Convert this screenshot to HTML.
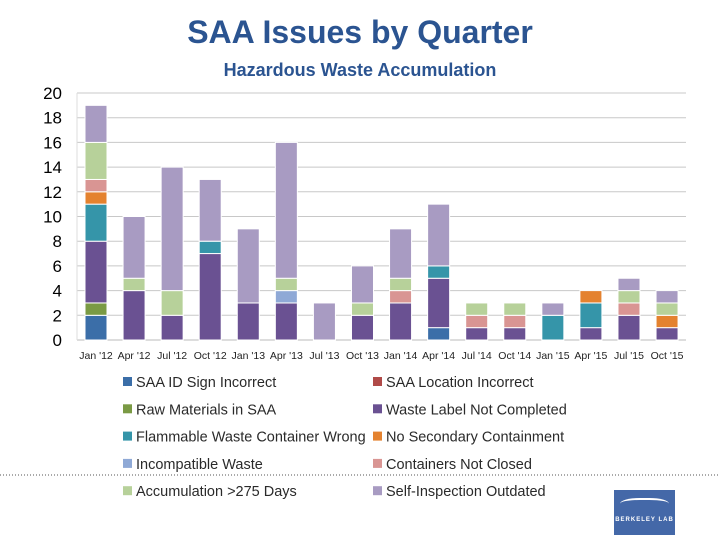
<!DOCTYPE html>
<html><head><meta charset="utf-8"><style>
body{margin:0;width:720px;height:540px;background:#fff;overflow:hidden;font-family:"Liberation Sans",sans-serif;position:relative}
</style></head><body>
<div style="position:absolute;left:0;width:720px;top:14px;text-align:center;font-size:32px;font-weight:bold;color:#2b5491">SAA Issues by Quarter</div>
<div style="position:absolute;left:0;width:720px;top:60px;text-align:center;font-size:18px;font-weight:bold;color:#2b5491">Hazardous Waste Accumulation</div>
<svg id="chart" width="720" height="540" style="position:absolute;left:0;top:0"></svg>
<script>
const categories=["Jan '12","Apr '12","Jul '12","Oct '12","Jan '13","Apr '13","Jul '13","Oct '13","Jan '14","Apr '14","Jul '14","Oct '14","Jan '15","Apr '15","Jul '15","Oct '15"];
const seriesNames=["SAA ID Sign Incorrect","SAA Location Incorrect","Raw Materials in SAA","Waste Label Not Completed","Flammable Waste Container Wrong","No Secondary Containment","Incompatible Waste","Containers Not Closed","Accumulation >275 Days","Self-Inspection Outdated"];
const seriesColors=["#3b6ea8","#b04a48","#7a9a44","#6a5192","#3595a9","#e4822f","#8fa9d6","#d99593","#b7d19a","#a89bc2"];
const idSign=[2,0,0,0,0,0,0,0,0,1,0,0,0,0,0,0];
const location_=[0,0,0,0,0,0,0,0,0,0,0,0,0,0,0,0];
const rawMaterials=[1,0,0,0,0,0,0,0,0,0,0,0,0,0,0,0];
const wasteLabel=[5,4,2,7,3,3,0,2,3,4,1,1,0,1,2,1];
const flammable=[3,0,0,1,0,0,0,0,0,1,0,0,2,2,0,0];
const noSecondary=[1,0,0,0,0,0,0,0,0,0,0,0,0,1,0,1];
const incompatible=[0,0,0,0,0,1,0,0,0,0,0,0,0,0,0,0];
const notClosed=[1,0,0,0,0,0,0,0,1,0,1,1,0,0,1,0];
const accumulation=[3,1,2,0,0,1,0,1,1,0,1,1,0,0,1,1];
const selfInspection=[3,5,10,5,6,11,3,3,4,5,0,0,1,0,1,1];
const yTicks=[0,2,4,6,8,10,12,14,16,18,20];
const series=[idSign,location_,rawMaterials,wasteLabel,flammable,noSecondary,incompatible,notClosed,accumulation,selfInspection];
const NS="http://www.w3.org/2000/svg",svg=document.getElementById('chart');
const x0=77,x1=686,y0=340,yTop=93,yMax=20;
const y=v=>y0-(y0-yTop)*v/yMax;
const step=38.07;
const xc=i=>96+step*i;
function mk(t,a){const e=document.createElementNS(NS,t);for(const k in a)e.setAttribute(k,a[k]);svg.appendChild(e);return e;}
yTicks.forEach(v=>{
 if(v>0){const l=mk('line',{x1:x0,x2:x1,y1:y(v),y2:y(v),stroke:'#c8c8c8','stroke-width':1});
 }
 const t=mk('text',{x:62,y:y(v)+6,'text-anchor':'end','font-size':17,fill:'#000','font-family':'Liberation Sans'});
 t.textContent=v;
});
const ax=mk('line',{x1:x0,x2:x1,y1:y0,y2:y0,stroke:'#bbb'});
const ay=mk('line',{x1:x0,x2:x0,y1:yTop,y2:y0,stroke:'#ddd'});
categories.forEach((c,i)=>{
 let acc=0;
 series.forEach((s,k)=>{const v=s[i];if(!v)return;
  const r=mk('rect',{x:xc(i)-11,y:y(acc+v),width:22,height:y(acc)-y(acc+v),fill:seriesColors[k],stroke:'#fff','stroke-width':1});
  acc+=v;});
 const t=mk('text',{x:xc(i),y:359,'text-anchor':'middle','font-size':10.5,fill:'#222','font-family':'Liberation Sans'});
 t.textContent=c;
});
seriesNames.forEach((n,k)=>{
 const col=k%2,row=Math.floor(k/2);const lx=col?373:123,ly=377+row*27.3;
 const g=mk('rect',{x:lx,y:ly,width:9,height:9,fill:seriesColors[k]});
 
 const t=mk('text',{x:lx+13,y:ly+10,'font-size':14.5,fill:'#2a2a2a','font-family':'Liberation Sans'});
 t.textContent=n;
});
const d=mk('line',{x1:0,x2:720,y1:475,y2:475,stroke:'#555','stroke-dasharray':'1,2'});
</script>
<div style="position:absolute;left:614px;top:490px;width:61px;height:45px;background:#4468a8;color:#fff;font-size:6px;font-weight:bold;text-align:center;line-height:8px">
<div style="margin:8px 6px 0;height:12px;border-top:2px solid #fff;border-radius:40% 40% 0 0"></div>
<div style="letter-spacing:1px;margin-top:4px">BERKELEY LAB</div></div>
</body></html>
